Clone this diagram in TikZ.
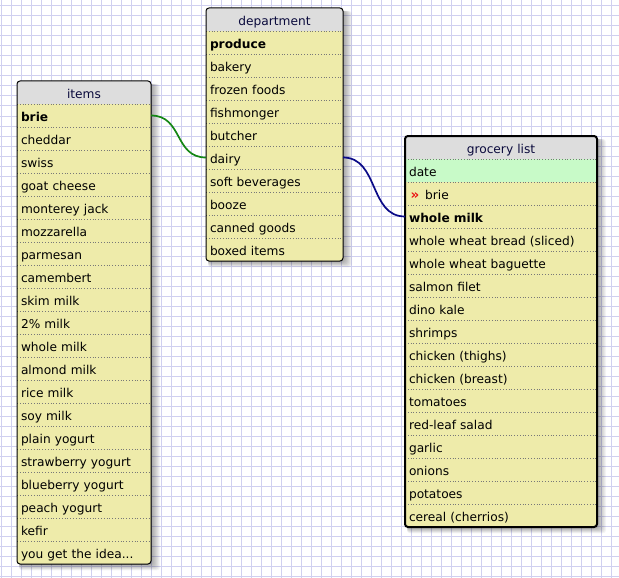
\documentclass[tikz,border=0pt]{standalone}
\usepackage{fontspec}
\setmainfont{DejaVu Sans}
\definecolor{gridcol}{RGB}{208,208,240}
\definecolor{rowyellow}{RGB}{238,235,170}
\definecolor{headgray}{RGB}{221,221,221}
\definecolor{keygreen}{RGB}{200,250,200}
\definecolor{titlenavy}{RGB}{10,10,60}
\definecolor{fkred}{RGB}{235,20,20}
\definecolor{linkgreen}{RGB}{20,135,20}
\definecolor{linkblue}{RGB}{10,10,135}
\definecolor{sepgray}{RGB}{120,120,120}

% one table: name, left, top, width, number of rows, title, border width, rows (text/fill)
\newcommand{\dbtable}[8]{%
  \pgfmathsetmacro{\tabBot}{#3+23*(#5+1)}%
  \pgfmathsetmacro{\tabRight}{#2+#4}%
  \pgfmathsetmacro{\tabTW}{#4-8}%
  % soft shadow to the right and below
  \foreach \k in {1,...,9}{
    \fill[black, opacity=0.045, rounded corners=3pt]
      (#2+2, #3+3) rectangle (\tabRight+\k, \tabBot+0.7*\k);
  }
  \begin{scope}
    \clip[rounded corners=3pt] (#2,#3) rectangle (\tabRight,\tabBot);
    \node[headcell, minimum width=#4pt, text width=\tabTW pt] (#1-0) at (#2,#3) {#6};
    \foreach \txt/\col [count=\i] in {#8}{
      \node[rowcell, fill=\col, minimum width=#4pt, text width=\tabTW pt]
        (#1-\i) at (#2, #3+23*\i) {\txt};
      \draw[sepline] (#2, #3+23*\i) -- (\tabRight, #3+23*\i);
    }
  \end{scope}
  \draw[line width=#7, rounded corners=3pt] (#2,#3) rectangle (\tabRight,\tabBot);
}

\begin{document}
\begin{tikzpicture}[x=1pt, y=-1pt,
  cellbase/.style={anchor=north west, minimum height=23pt, inner xsep=4pt,
    inner ysep=0pt, outer sep=0pt, text height=13.5pt, text depth=2pt,
    font=\fontsize{12.2}{14}\selectfont},
  headcell/.style={cellbase, fill=headgray, align=center, text=titlenavy},
  rowcell/.style={cellbase, align=left, text=black},
  sepline/.style={sepgray, line width=0.8pt, dotted},
  gridline/.style={gridcol, line width=1pt},
  link/.style={line width=1.7pt}
]
\useasboundingbox (0,0) rectangle (619,578);
\fill[white] (0,0) rectangle (619,578);

% background grid
\foreach \gx in {1,11,...,611} \draw[gridline] (\gx,0) -- (\gx,578);
\foreach \gy in {6,16,...,576} \draw[gridline] (0,\gy) -- (619,\gy);

\dbtable{items}{17}{81}{134}{20}{items}{1pt}{%
  \textbf{brie}/rowyellow, cheddar/rowyellow, swiss/rowyellow,
  goat cheese/rowyellow, monterey jack/rowyellow, mozzarella/rowyellow,
  parmesan/rowyellow, camembert/rowyellow, skim milk/rowyellow,
  2\% milk/rowyellow, whole milk/rowyellow, almond milk/rowyellow,
  rice milk/rowyellow, soy milk/rowyellow, plain yogurt/rowyellow,
  strawberry yogurt/rowyellow, blueberry yogurt/rowyellow,
  peach yogurt/rowyellow, kefir/rowyellow, {you get the idea{.}{.}{.}}/rowyellow}

\dbtable{department}{206}{8}{137}{10}{department}{1pt}{%
  \textbf{produce}/rowyellow, bakery/rowyellow, frozen foods/rowyellow,
  fishmonger/rowyellow, butcher/rowyellow, dairy/rowyellow,
  soft beverages/rowyellow, booze/rowyellow, canned goods/rowyellow,
  boxed items/rowyellow}

\dbtable{grocery}{405}{136}{192}{16}{grocery list}{2pt}{%
  date/keygreen, {\hspace{1.5pt}{\color{fkred}\bfseries\fontsize{13.5}{14}\selectfont »}\hspace{6pt}brie}/rowyellow,
  \textbf{whole milk}/rowyellow, {whole wheat bread (sliced)}/rowyellow,
  whole wheat baguette/rowyellow, salmon filet/rowyellow, dino kale/rowyellow,
  shrimps/rowyellow, {chicken (thighs)}/rowyellow, {chicken (breast)}/rowyellow,
  tomatoes/rowyellow, red-leaf salad/rowyellow, garlic/rowyellow,
  onions/rowyellow, potatoes/rowyellow, {cereal (cherrios)}/rowyellow}

% relations
\draw[link, linkgreen] (items-1.east) .. controls +(32,0) and +(-32,0) .. (department-6.west);
\draw[link, linkblue] (department-6.east) .. controls +(36,0) and +(-36,0) .. (grocery-3.west);
\end{tikzpicture}
\end{document}
